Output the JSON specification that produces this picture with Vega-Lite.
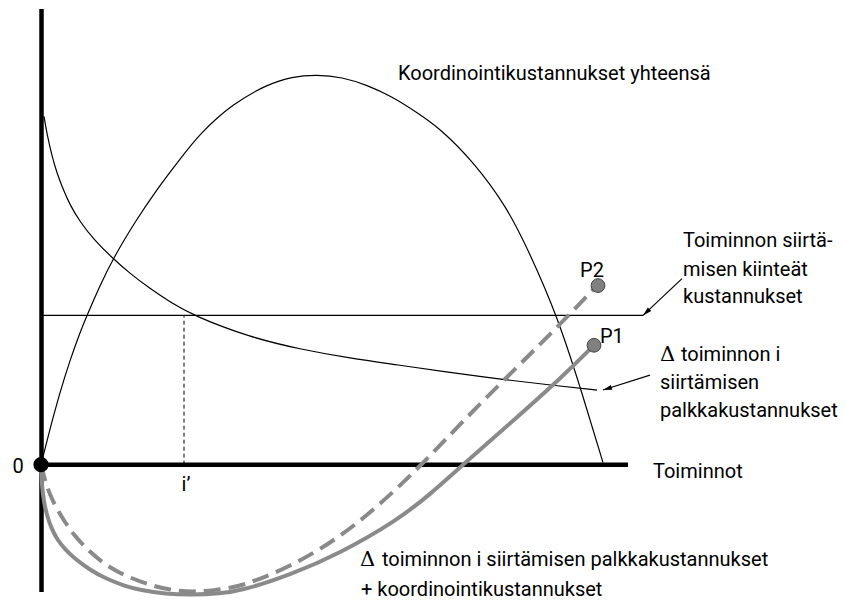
{
  "$schema": "https://vega.github.io/schema/vega-lite/v6.json",
  "width": 846,
  "height": 603,
  "autosize": {"type": "fit", "contains": "padding"},
  "padding": 0,
  "background": "white",
  "config": {"view": {"stroke": null}},
  "datasets": {
    "curves": [
      {"s": "palkka", "x": 3, "y": 350}, {"s": "palkka", "x": 6, "y": 332}, {"s": "palkka", "x": 11, "y": 310}, {"s": "palkka", "x": 16, "y": 293}, {"s": "palkka", "x": 22, "y": 277}, {"s": "palkka", "x": 29, "y": 261}, {"s": "palkka", "x": 39, "y": 244}, {"s": "palkka", "x": 54, "y": 225}, {"s": "palkka", "x": 69, "y": 210}, {"s": "palkka", "x": 89, "y": 192}, {"s": "palkka", "x": 109, "y": 177}, {"s": "palkka", "x": 129, "y": 163.5}, {"s": "palkka", "x": 152, "y": 150}, {"s": "palkka", "x": 209, "y": 128}, {"s": "palkka", "x": 259, "y": 116}, {"s": "palkka", "x": 309, "y": 107}, {"s": "palkka", "x": 359, "y": 100}, {"s": "palkka", "x": 399, "y": 94}, {"s": "palkka", "x": 466, "y": 85}, {"s": "palkka", "x": 519, "y": 79}, {"s": "palkka", "x": 556, "y": 75},
      {"s": "koord", "x": 0, "y": 0}, {"s": "koord", "x": 9, "y": 36}, {"s": "koord", "x": 19, "y": 73}, {"s": "koord", "x": 29, "y": 105}, {"s": "koord", "x": 39, "y": 133}, {"s": "koord", "x": 46, "y": 150}, {"s": "koord", "x": 59, "y": 180}, {"s": "koord", "x": 72, "y": 207}, {"s": "koord", "x": 94, "y": 244}, {"s": "koord", "x": 116, "y": 277}, {"s": "koord", "x": 139, "y": 307}, {"s": "koord", "x": 159, "y": 333}, {"s": "koord", "x": 192, "y": 363}, {"s": "koord", "x": 226, "y": 382}, {"s": "koord", "x": 251, "y": 390}, {"s": "koord", "x": 276, "y": 392}, {"s": "koord", "x": 301, "y": 389.5}, {"s": "koord", "x": 326, "y": 381.5}, {"s": "koord", "x": 351, "y": 370}, {"s": "koord", "x": 376, "y": 354}, {"s": "koord", "x": 399, "y": 338}, {"s": "koord", "x": 432, "y": 305}, {"s": "koord", "x": 466, "y": 259}, {"s": "koord", "x": 489, "y": 212}, {"s": "koord", "x": 516, "y": 150}, {"s": "koord", "x": 539, "y": 79}, {"s": "koord", "x": 562, "y": 2},
      {"s": "P1", "x": 0, "y": 0}, {"s": "P1", "x": 1, "y": -23}, {"s": "P1", "x": 3, "y": -38}, {"s": "P1", "x": 6, "y": -51}, {"s": "P1", "x": 10, "y": -63}, {"s": "P1", "x": 16, "y": -75}, {"s": "P1", "x": 24, "y": -85}, {"s": "P1", "x": 32, "y": -93}, {"s": "P1", "x": 49, "y": -106}, {"s": "P1", "x": 66, "y": -115}, {"s": "P1", "x": 84, "y": -122}, {"s": "P1", "x": 99, "y": -126}, {"s": "P1", "x": 124, "y": -130}, {"s": "P1", "x": 152, "y": -131}, {"s": "P1", "x": 179, "y": -129.5}, {"s": "P1", "x": 199, "y": -127}, {"s": "P1", "x": 249, "y": -111}, {"s": "P1", "x": 299, "y": -89}, {"s": "P1", "x": 356, "y": -56}, {"s": "P1", "x": 389, "y": -30}, {"s": "P1", "x": 422, "y": 0}, {"s": "P1", "x": 472, "y": 44}, {"s": "P1", "x": 522, "y": 89}, {"s": "P1", "x": 553, "y": 120},
      {"s": "P2", "x": 0, "y": 0}, {"s": "P2", "x": 2, "y": -8}, {"s": "P2", "x": 5, "y": -19}, {"s": "P2", "x": 9, "y": -30}, {"s": "P2", "x": 14, "y": -41}, {"s": "P2", "x": 21, "y": -53}, {"s": "P2", "x": 32, "y": -70}, {"s": "P2", "x": 49, "y": -88}, {"s": "P2", "x": 66, "y": -102}, {"s": "P2", "x": 87, "y": -113}, {"s": "P2", "x": 109, "y": -121}, {"s": "P2", "x": 129, "y": -126}, {"s": "P2", "x": 152, "y": -128}, {"s": "P2", "x": 174, "y": -126}, {"s": "P2", "x": 199, "y": -123}, {"s": "P2", "x": 249, "y": -103}, {"s": "P2", "x": 299, "y": -73}, {"s": "P2", "x": 339, "y": -40}, {"s": "P2", "x": 381, "y": 0}, {"s": "P2", "x": 422, "y": 44}, {"s": "P2", "x": 472, "y": 94}, {"s": "P2", "x": 522, "y": 144}, {"s": "P2", "x": 556, "y": 180}
    ],
    "thin": [
      {"id": "kiintea", "x": 0, "y": 150, "x2": 602, "y2": 150},
      {"id": "arrow1", "x": 641, "y": 187, "x2": 602, "y2": 150},
      {"id": "arrow2", "x": 609, "y": 90, "x2": 562, "y2": 75}
    ],
    "axes": [
      {"id": "yaxis", "x": 0.5, "y": 458, "x2": 0.5, "y2": -128},
      {"id": "xaxis", "x": 0, "y": 0, "x2": 587, "y2": 0}
    ],
    "iline": [{"x": 143, "y": 0, "x2": 143, "y2": 150}],
    "heads": [
      {"x": 602, "y": 150, "angle": 226.5},
      {"x": 562, "y": 75, "angle": 252}
    ],
    "dots": [{"id": "P1", "x": 553, "y": 120}, {"id": "P2", "x": 557, "y": 180}],
    "origin": [{"x": 0, "y": 0}],
    "labelsLeft": [
      {"t": "Koordinointikustannukset yhteensä", "x": 357, "y": 387},
      {"t": "Toiminnon siirtä-", "x": 642, "y": 219},
      {"t": "misen kiinteät", "x": 642, "y": 190},
      {"t": "kustannukset", "x": 642, "y": 162},
      {"t": "toiminnon i", "x": 640, "y": 104},
      {"t": "siirtämisen", "x": 619, "y": 76},
      {"t": "palkkakustannukset", "x": 619, "y": 48},
      {"t": "Toiminnot", "x": 612, "y": -13},
      {"t": "toiminnon i siirtämisen palkkakustannukset", "x": 341, "y": -102},
      {"t": "+ koordinointikustannukset", "x": 320, "y": -132},
      {"t": "P1", "x": 559, "y": 122}
    ],
    "deltas": [
      {"t": "Δ", "x": 619, "y": 104},
      {"t": "Δ", "x": 319, "y": -102}
    ],
    "labelsCenter": [
      {"t": "0", "x": -23, "y": -8},
      {"t": "i’", "x": 145, "y": -26},
      {"t": "P2", "x": 551, "y": 189}
    ]
  },
  "encoding": {
    "x": {"field": "x", "type": "quantitative", "scale": {"domain": [-41, 805], "nice": false, "zero": false}, "axis": null},
    "y": {"field": "y", "type": "quantitative", "scale": {"domain": [-136, 467], "nice": false, "zero": false}, "axis": null}
  },
  "layer": [
    {
      "data": {"name": "thin"},
      "mark": {"type": "rule", "color": "black", "strokeWidth": 1.2},
      "encoding": {"x2": {"field": "x2"}, "y2": {"field": "y2"}}
    },
    {
      "data": {"name": "iline"},
      "mark": {"type": "rule", "color": "black", "strokeWidth": 1, "strokeDash": [4, 3]},
      "encoding": {"x2": {"field": "x2"}, "y2": {"field": "y2"}}
    },
    {
      "data": {"name": "curves"},
      "transform": [{"filter": "datum.s === 'palkka' || datum.s === 'koord'"}],
      "mark": {"type": "line", "color": "black", "strokeWidth": 1.2, "interpolate": "basis"},
      "encoding": {"detail": {"field": "s"}}
    },
    {
      "data": {"name": "axes"},
      "mark": {"type": "rule", "color": "black", "strokeWidth": 4.5},
      "encoding": {"x2": {"field": "x2"}, "y2": {"field": "y2"}}
    },
    {
      "data": {"name": "curves"},
      "transform": [{"filter": "datum.s === 'P1'"}],
      "mark": {"type": "line", "color": "#8a8a8a", "strokeWidth": 4, "interpolate": "basis"},
      "encoding": {}
    },
    {
      "data": {"name": "curves"},
      "transform": [{"filter": "datum.s === 'P2'"}],
      "mark": {"type": "line", "color": "#8a8a8a", "strokeWidth": 4, "strokeDash": [17, 8], "interpolate": "basis"},
      "encoding": {}
    },
    {
      "data": {"name": "dots"},
      "mark": {"type": "point", "filled": true, "fill": "#808080", "stroke": "#444444", "strokeWidth": 1, "size": 190, "opacity": 1}
    },
    {
      "data": {"name": "origin"},
      "mark": {"type": "point", "filled": true, "color": "black", "size": 230, "opacity": 1}
    },
    {
      "data": {"name": "heads"},
      "mark": {"type": "point", "filled": true, "color": "black", "shape": "M0,0L-0.5,1.8L0.5,1.8Z", "size": 100, "opacity": 1},
      "encoding": {"angle": {"field": "angle", "type": "quantitative", "scale": null}}
    },
    {
      "data": {"name": "labelsLeft"},
      "mark": {"type": "text", "font": "Roboto", "fontSize": 20, "align": "left", "baseline": "alphabetic", "color": "black"},
      "encoding": {"text": {"field": "t"}}
    },
    {
      "data": {"name": "deltas"},
      "mark": {"type": "text", "font": "DejaVu Serif", "fontSize": 21, "align": "left", "baseline": "alphabetic", "color": "black"},
      "encoding": {"text": {"field": "t"}}
    },
    {
      "data": {"name": "labelsCenter"},
      "mark": {"type": "text", "font": "Roboto", "fontSize": 20, "align": "center", "baseline": "alphabetic", "color": "black"},
      "encoding": {"text": {"field": "t"}}
    }
  ]
}
